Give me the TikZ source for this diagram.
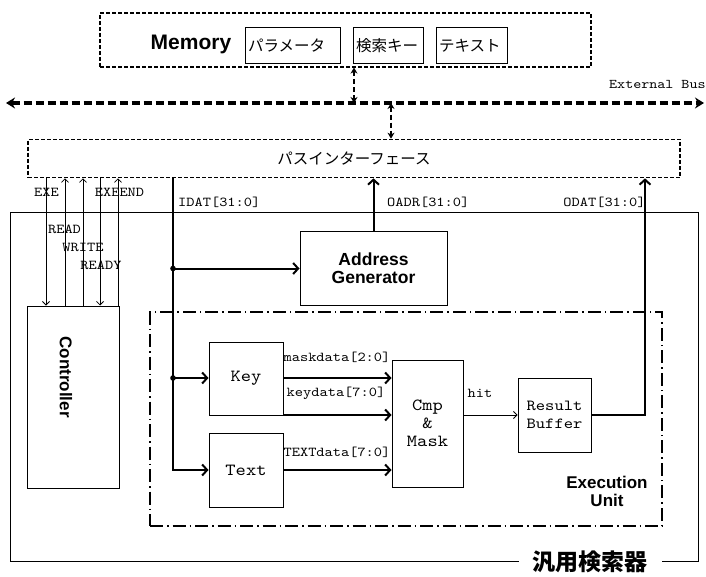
\documentclass[tikz,border=0pt]{standalone}
\usepackage{fontspec}
\newfontfamily\sansf{Liberation Sans}
\newfontfamily\cour[FakeStretch=1.15]{lmmono10-regular.otf}
\newfontfamily\cjk{Noto Sans CJK JP}
\usetikzlibrary{arrows.meta}
\begin{document}
\begin{tikzpicture}[x=1pt,y=-1pt,
  box/.style={draw, line width=1pt, inner sep=0pt},
  dashbox/.style={draw, line width=1.2pt, dash pattern=on 4pt off 2pt, inner sep=0pt},
  dashdot/.style={draw, line width=1.5pt, dash pattern=on 13pt off 4pt on 1.5pt off 4pt},
  mlabel/.style={font=\cour\fontsize{13.6}{15}\selectfont, inner sep=0pt},
  mbig/.style={font=\cour\fontsize{17}{18}\selectfont, align=center},
  blabel/.style={font=\sansf\bfseries\fontsize{17.5}{18}\selectfont, align=center, inner sep=0pt},
  jp/.style={font=\cjk\fontsize{15.5}{17}\selectfont},
  thk/.style={line width=2pt, -{Straight Barb[length=5pt,width=11pt]}},
  thkline/.style={line width=2pt},
  ctlin/.style={line width=0.8pt, -{Straight Barb[length=3.5pt,width=7pt]}},
  bus/.style={line width=3.5pt, dash pattern=on 8pt off 4pt,
    {Stealth[length=9pt,width=11pt]}-{Stealth[length=9pt,width=11pt]}},
  sbus/.style={line width=1.6pt, dash pattern=on 5pt off 3pt,
    {Stealth[length=6pt,width=7pt]}-{Stealth[length=6pt,width=7pt]}},
]
\useasboundingbox (0,0) rectangle (706,577);

% ---- Memory ----
\node[dashbox, minimum width=491pt, minimum height=54pt] (mem) at (345.5,40) {};
\node[font=\sansf\bfseries\fontsize{21}{22}\selectfont, inner sep=0pt, anchor=base] (memlbl) at (191,50) {Memory};
\node[box, jp, minimum width=95pt, minimum height=36pt, text width=89pt, align=left, inner xsep=3pt] (p1) at (292.5,45.7) {パラメータ};
\node[box, jp, minimum width=70pt, minimum height=36pt, text width=64pt, align=left, inner xsep=3pt] (p2) at (388,45.7) {検索キー};
\node[box, jp, minimum width=71pt, minimum height=36pt, text width=65pt, align=left, inner xsep=3pt] (p3) at (471.5,45.7) {テキスト};

% ---- External bus ----
\coordinate (busL) at (6,103);
\coordinate (busR) at (704,103);
\draw[bus] (busL) -- (busR);
\node[mlabel, font=\cour\fontsize{13.3}{15}\selectfont, anchor=west] (extbus) at (609,84) {External Bus};

\coordinate (xmem) at (354,0);
\coordinate (xbif) at (391,0);
\draw[sbus] (xmem |- mem.south) -- (xmem |- busL);

% ---- Bus interface ----
\node[dashbox, minimum width=652pt, minimum height=38.5pt, jp] (bif) at (354,158.5) {パスインターフェース};
\draw[sbus] (xbif |- busL) -- (xbif |- bif.north);

% ---- Outer box ----
\node[box, minimum width=688pt, minimum height=348pt] (outer) at (354,387) {};
\node[fill=white, inner xsep=14pt, inner ysep=0pt, font=\cjk\bfseries\fontsize{23}{24}\selectfont] (title) at (590,562) {汎用検索器};

% ---- Controller ----
\node[box, minimum width=92pt, minimum height=182pt] (ctrl) at (73,397) {};
\node[blabel, rotate=-90, font=\sansf\bfseries\fontsize{17}{18}\selectfont] (ctrllbl) at (66,377) {Controller};

\coordinate (xexe) at (46,0);
\coordinate (xread) at (65,0);
\coordinate (xwrite) at (83,0);
\coordinate (xready) at (100,0);
\coordinate (xend) at (118,0);
\draw[ctlin] (xexe |- bif.south) -- (xexe |- ctrl.north);
\draw[ctlin] (xread |- ctrl.north) -- (xread |- bif.south);
\draw[ctlin] (xwrite |- ctrl.north) -- (xwrite |- bif.south);
\draw[ctlin] (xready |- bif.south) -- (xready |- ctrl.north);
\draw[ctlin] (xend |- ctrl.north) -- (xend |- bif.south);
\node[mlabel] (lexe) at (46.5,192) {EXE};
\node[mlabel] (lend) at (119.5,192) {EXEEND};
\node[mlabel] (lread) at (64.5,229) {READ};
\node[mlabel] (lwrite) at (83,247) {WRITE};
\node[mlabel] (lready) at (101,265) {READY};

% ---- Address generator ----
\node[box, minimum width=147pt, minimum height=73pt, blabel] (addr) at (373.5,268.5) {Address\\Generator};

% ---- Execution unit ----
\node[dashdot, minimum width=512pt, minimum height=214pt, inner sep=0pt] (eu) at (406,419) {};
\node[blabel, font=\sansf\bfseries\fontsize{17}{18}\selectfont] (eulbl) at (607,491) {Execution\\Unit};

\node[box, minimum width=74pt, minimum height=73pt, mbig] (key) at (246,378.5) {Key};
\node[box, minimum width=74pt, minimum height=74pt, mbig] (text) at (246,470) {Text};
\node[box, minimum width=71pt, minimum height=127pt, mbig] (cmp) at (427.5,423.5) {Cmp\\\&\\Mask};
\node[box, minimum width=73pt, minimum height=74pt, mbig, font=\cour\fontsize{15.4}{18}\selectfont] (rb) at (554.5,415) {Result\\Buffer};

% ---- IDAT ----
\coordinate (xidat) at (173,0);
\coordinate (jaddr) at (173,268.5);
\coordinate (jkey) at (173,378);
\draw[thk] (xidat |- bif.south) -- (xidat |- text.west) -- (text.west);
\draw[thk] (jaddr) -- (addr.west);
\draw[thk] (jkey) -- (key.west |- jkey);
\fill (jaddr) circle (2.8pt);
\fill (jkey) circle (2.8pt);
\node[mlabel, anchor=west] (lidat) at (178,202) {IDAT[31:0]};

% ---- OADR ----
\draw[thk] (addr.north) -- (addr.north |- bif.south);
\node[mlabel, anchor=west] (loadr) at (387,202) {OADR[31:0]};

% ---- ODAT ----
\coordinate (xodat) at (645,0);
\draw[thk] (rb.east) -- (xodat |- rb.east) -- (xodat |- bif.south);
\node[mlabel] (lodat) at (604.5,202) {ODAT[31:0]};

% ---- Key/Text to Cmp ----
\coordinate (ymask) at (0,378);
\coordinate (ykey) at (0,415);
\coordinate (ytext) at (0,470);
\draw[thk] (key.east |- ymask) -- (cmp.west |- ymask);
\draw[thk] (key.east |- ykey) -- (cmp.west |- ykey);
\draw[thk] (text.east |- ytext) -- (cmp.west |- ytext);
\node[mlabel] (lmask) at (337,357) {maskdata[2:0]};
\node[mlabel] (lkey) at (336,393) {keydata[7:0]};
\node[mlabel] (ltext) at (337,452) {TEXTdata[7:0]};

% ---- hit ----
\draw[ctlin] (cmp.east |- rb.west) -- (rb.west);
\node[mlabel] (lhit) at (480,393) {hit};
\end{tikzpicture}
\end{document}
